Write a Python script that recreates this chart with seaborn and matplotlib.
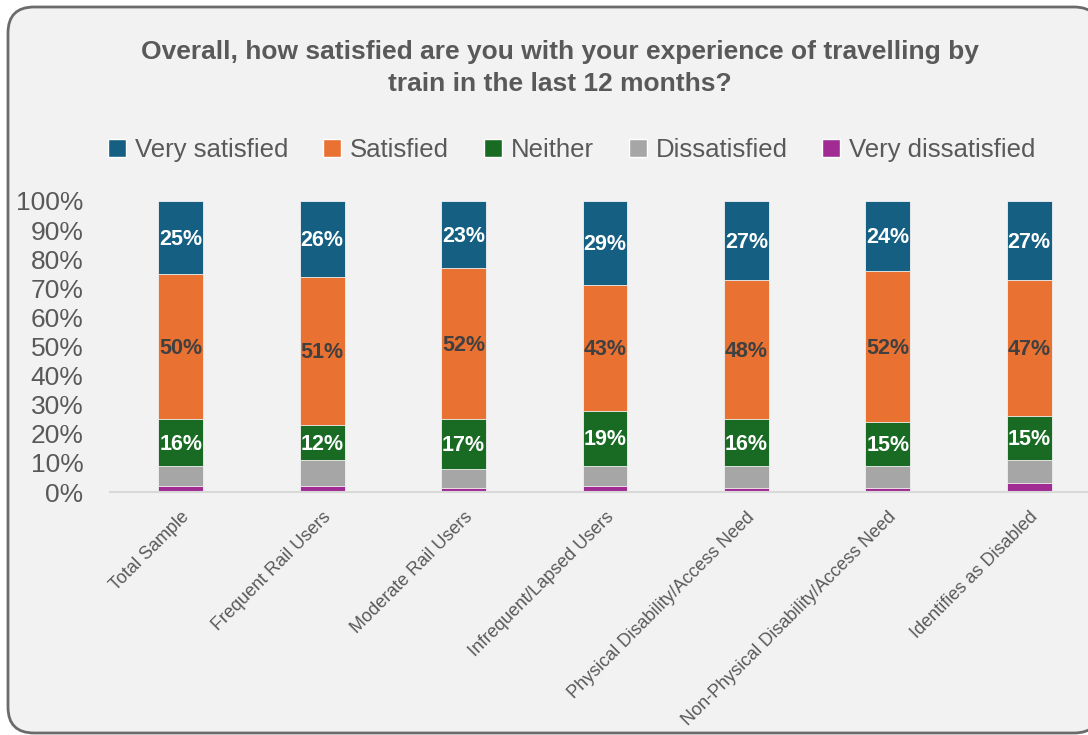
import matplotlib
matplotlib.use("Agg")
import matplotlib.pyplot as plt
from matplotlib.patches import FancyBboxPatch
import seaborn as sns
import pandas as pd
import numpy as np

# Survey groups (x axis)
groups = [
    "Total Sample",
    "Frequent Rail Users",
    "Moderate Rail Users",
    "Infrequent/Lapsed Users",
    "Physical Disability/Access Need",
    "Non-Physical Disability/Access Need",
    "Identifies as Disabled",
]

# Share of respondents (%) per response, bottom to top of the stack
very_dissatisfied = [2, 2, 1.5, 2, 1.5, 1.5, 3]
dissatisfied = [7, 9, 6.5, 7, 7.5, 7.5, 8]
neither = [16, 12, 17, 19, 16, 15, 15]
satisfied = [50, 51, 52, 43, 48, 52, 47]
very_satisfied = [25, 26, 23, 29, 27, 24, 27]

series_names = ["Very dissatisfied", "Dissatisfied", "Neither", "Satisfied", "Very satisfied"]
series_values = [very_dissatisfied, dissatisfied, neither, satisfied, very_satisfied]
series_colors = ["#A02B93", "#A6A6A6", "#196B24", "#E97132", "#156082"]
label_colors = [None, None, "white", "#404040", "white"]

y_ticks = [0, 10, 20, 30, 40, 50, 60, 70, 80, 90, 100]

title = ("Overall, how satisfied are you with your experience of travelling by\n"
         "train in the last 12 months?")

sns.set_theme(style="white")
plt.rcParams["font.family"] = ["Liberation Sans", "DejaVu Sans"]

W, H = 1088, 735
fig = plt.figure(figsize=(W / 100, H / 100), dpi=100, facecolor="white")

# rounded chart frame
frame = FancyBboxPatch((8, 2), 1092, 726, boxstyle="round,pad=0,rounding_size=26",
                       transform=None, facecolor="#F2F2F2", edgecolor="#6B6B6B",
                       linewidth=2.0, zorder=-10)
fig.patches.append(frame)

ax = fig.add_axes([110 / W, 1 - 492 / H, 990 / W, (492 - 201) / H])
ax.set_facecolor("none")
ax.set_zorder(5)

# long table of stacked segments
rows = []
for name, vals in zip(series_names, series_values):
    for g, v in zip(groups, vals):
        rows.append({"group": g, "response": name, "value": v})
df = pd.DataFrame(rows)
df["group"] = pd.Categorical(df["group"], categories=groups, ordered=True)
df["response"] = pd.Categorical(df["response"], categories=series_names, ordered=True)
df = df.sort_values(["group", "response"])
df["top"] = df.groupby("group", observed=True)["value"].cumsum()
df["bottom"] = df["top"] - df["value"]

# draw cumulative heights from the tallest stack down so each layer shows its own segment
for name, color in reversed(list(zip(series_names, series_colors))):
    sub = df[df["response"] == name]
    sns.barplot(data=sub, x="group", y="top", order=groups, color=color,
                width=0.318, saturation=1, edgecolor="#F2F2F2", linewidth=0.6,
                ax=ax, zorder=2)

# value labels
for name, lc in zip(series_names, label_colors):
    if lc is None:
        continue
    sub = df[df["response"] == name]
    for _, r in sub.iterrows():
        xi = groups.index(r["group"])
        ax.text(xi, r["bottom"] + r["value"] / 2 - 0.6, f"{r['value']:.0f}%",
                ha="center", va="center", color=lc, fontsize=15.5,
                fontweight="bold", zorder=3)

ax.set_ylim(0, 100)
ax.set_xlim(-0.5, 6.5)
ax.set_yticks(y_ticks)
ax.set_yticklabels([f"{t}%" for t in y_ticks], fontsize=19, color="#595959")
ax.tick_params(axis="y", length=0, pad=19)
ax.tick_params(axis="x", length=0, pad=12)
ax.set_xticks(range(len(groups)))
ax.set_xticklabels(groups, rotation=45, ha="right", va="top", rotation_mode="anchor",
                   fontsize=13, color="#595959")
ax.set_xlabel("")
ax.set_ylabel("")
for s in ["left", "right", "top"]:
    ax.spines[s].set_visible(False)
ax.spines["bottom"].set_color("#D9D9D9")
ax.spines["bottom"].set_linewidth(1.5)
ax.grid(False)

fig.text(560 / W, 1 - 68 / H, title, ha="center", va="center", fontsize=19,
         fontweight="bold", color="#595959", linespacing=1.45)

# legend in display order
handles = [plt.Rectangle((0, 0), 1, 1, facecolor=c) for c in reversed(series_colors)]
labels = list(reversed(series_names))
fig.legend(handles, labels, loc="center", bbox_to_anchor=(572 / W, 1 - 150 / H),
           ncol=5, frameon=False, fontsize=18.5, handlelength=0.7, handleheight=0.7,
           handletextpad=0.35, columnspacing=1.35, labelcolor="#595959")

fig.savefig("out.png", dpi=100, facecolor="white")
